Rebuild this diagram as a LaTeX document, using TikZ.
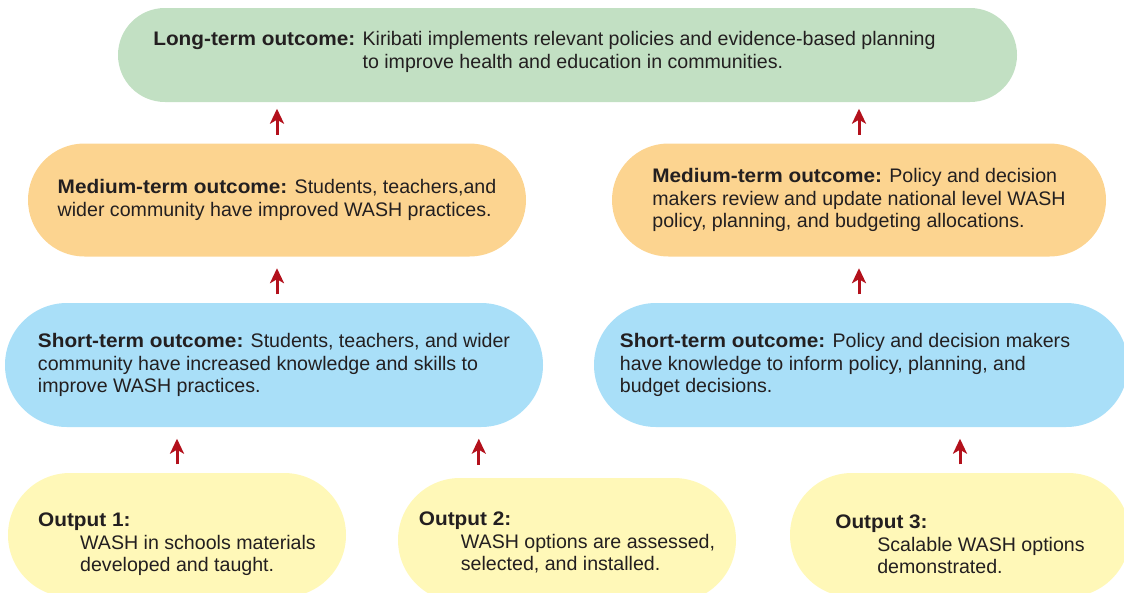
\documentclass[tikz,border=0pt]{standalone}
\usepackage{fontspec}
\setmainfont{Liberation Sans}[BoldFeatures={FakeStretch=1.06}]
\usetikzlibrary{arrows.meta,positioning}
\definecolor{longgreen}{HTML}{C2E0C3}
\definecolor{medorange}{HTML}{FCD490}
\definecolor{shortblue}{HTML}{A9DFF8}
\definecolor{outyellow}{HTML}{FFF8B8}
\definecolor{arrowred}{HTML}{B3111C}
\definecolor{textgray}{HTML}{231F20}
\tikzset{
	pill/.style={rectangle, inner sep=0pt, align=left, text=textgray,
		font=\fontsize{19.6}{22.5}\selectfont},
	longbox/.style={pill, fill=longgreen, minimum width=899pt, minimum height=94pt, rounded corners=46.9pt},
	medbox/.style={pill, fill=medorange, minimum height=113pt, rounded corners=56.4pt},
	shortbox/.style={pill, fill=shortblue, minimum height=124pt, rounded corners=61.9pt},
	outbox/.style={pill, fill=outyellow, minimum width=338pt, minimum height=124pt, rounded corners=61.9pt, text height=78pt},
	arrowup/.style={draw=arrowred, line width=3pt,
		-{Stealth[length=15pt, width=14pt, inset=4pt, sep=1.5pt]},
		shorten <=8.5pt, shorten >=10pt}
}

\begin{document}
\begin{tikzpicture}[x=1pt, y=-1pt]
			\clip (0,0) rectangle (1124,592);

			\node[longbox, text depth=34pt] (long) at (567.5,55)
				{\textbf{Long-term outcome:} \begin{tabular}[t]{@{}l@{}}Kiribati implements relevant policies and evidence-based planning\\to improve health and education in communities.\end{tabular}\hspace*{46pt}};

			\node[medbox, minimum width=498pt] (medL) at (277,200)
				{\textbf{Medium-term outcome:} Students, teachers,and\\wider community have improved WASH practices.};
			\node[medbox, minimum width=494pt] (medR) at (859,200)
				{\textbf{Medium-term outcome:} Policy and decision\\makers review and update national level WASH\\policy, planning, and budgeting allocations.};

			\node[shortbox, minimum width=538pt] (shortL) at (274,365)
				{\textbf{Short-term outcome:} Students, teachers, and wider\\community have increased knowledge and skills to\\improve WASH practices.};
			\node[shortbox, minimum width=534pt] (shortR) at (861,365)
				{\textbf{Short-term outcome:} Policy and decision makers\hspace*{32pt}\\have knowledge to inform policy, planning, and\\budget decisions.};

			\node[outbox] (out1) at (177,535)
				{\textbf{Output 1:}\\\hspace*{42pt}WASH in schools materials\\\hspace*{42pt}developed and taught.};
			\node[outbox, text height=64pt] (out2) at (567,540)
				{\textbf{Output 2:}\\\hspace*{42pt}WASH options are assessed,\\\hspace*{42pt}selected, and installed.};
			\node[outbox, minimum width=340pt] (out3) at (960,535)
				{\textbf{Output 3:}\\\hspace*{42pt}Scalable WASH options\\\hspace*{42pt}demonstrated.};

			\coordinate (out2tip) at ([xshift=81pt]out2.north west);

			\draw[arrowup, shorten >=5pt] (medL.north) -- (medL.north |- long.south);
			\draw[arrowup, shorten >=5pt] (medR.north) -- (medR.north |- long.south);
			\draw[arrowup] (medL.south |- shortL.north) -- (medL.south);
			\draw[arrowup] (medR.south |- shortR.north) -- (medR.south);
			\draw[arrowup] (out1.north) -- (out1.north |- shortL.south);
			\draw[arrowup, shorten <=13pt] (out2tip) -- (out2tip |- shortL.south);
			\draw[arrowup] (out3.north) -- (out3.north |- shortR.south);
		\end{tikzpicture}
\end{document}
